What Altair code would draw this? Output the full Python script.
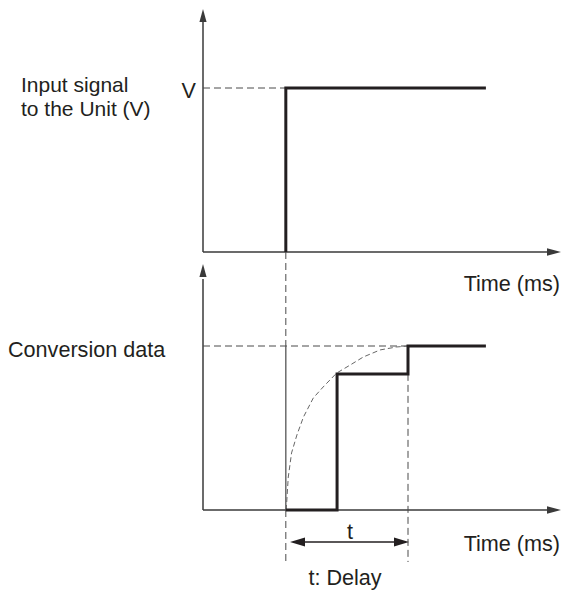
import altair as alt
import pandas as pd

# ---------------- data (time in ms; levels normalised, 1 = V / full scale) ----------------
input_time = [20.2, 20.2, 69]
input_level = [0, 1, 1]
conv_time = [20.2, 32.7, 32.7, 50, 50, 69]
conv_level = [0, 0, 0.83, 0.83, 1, 1]
curve_time = [20.3, 20.6, 20.8, 21.6, 22.9, 24.5, 26.9, 29.3, 32.6, 35.9, 39.1, 43.2, 47.2, 50]
curve_level = [0, 0.122, 0.201, 0.348, 0.457, 0.567, 0.683, 0.75, 0.835, 0.884, 0.933, 0.976, 0.994, 1.0]
step_time = 20.2
mid_level = 0.83
delay_end = 50
axis_end = 86.0
labels_top = ["Input signal", "to the Unit (V)"]
label_v = "V"
label_time = "Time (ms)"
label_conv = "Conversion data"
label_t = "t"
label_delay = "t: Delay"

# ---------------- layout ----------------
W, H = 553, 582
X0, K = 203, 4.1            # page px of t=0, px per ms
TOPB, BOTB, P = 252, 510, 164  # baselines (page px) and px per level unit
FS = 21.6


def tx(px):
    return (px - X0) / K


def tl(py):
    return (TOPB - py) / P


def bl(py):
    return (BOTB - py) / P


XDOM = [tx(8), tx(8 + W)]
TDOM = [tl(8 + H), tl(8)]
BDOM = [bl(8 + H), bl(8)]

FONT = "Liberation Sans"
TXT = "#231f20"
AX = "#3a3a3a"
DASH = "#4a4a4a"

xs = alt.Scale(domain=XDOM, nice=False, zero=False)
ts = alt.Scale(domain=TDOM, nice=False, zero=False)
bs = alt.Scale(domain=BDOM, nice=False, zero=False)


def enc_x(f="t"):
    return alt.X(f"{f}:Q", scale=xs, axis=None)


def enc_y(scale, f="v"):
    return alt.Y(f"{f}:Q", scale=scale, axis=None)


def rules(rows, scale, **mk):
    df = pd.DataFrame(rows, columns=["t", "t2", "v", "v2"])
    return alt.Chart(df).mark_rule(**mk).encode(
        x=enc_x("t"), x2="t2:Q", y=enc_y(scale, "v"), y2="v2:Q"
    )


def arrows(rows, scale, shape, size, color=AX):
    df = pd.DataFrame(rows, columns=["t", "v"])
    return alt.Chart(df).mark_point(
        shape=shape, size=size, filled=True, opacity=1, color=color, strokeWidth=0
    ).encode(x=enc_x("t"), y=enc_y(scale, "v"))


def texts(rows, scale, align, size=FS):
    df = pd.DataFrame(rows, columns=["label", "t", "v"])
    return alt.Chart(df).mark_text(
        align=align, baseline="alphabetic", fontSize=size, font=FONT, color=TXT
    ).encode(x=enc_x("t"), y=enc_y(scale, "v"), text="label:N")


UP = "M0,-1L-0.55,1L0.55,1Z"
RIGHT = "M1,0L-1,-0.55L-1,0.55Z"
LEFT = "M-1,0L1,-0.6L1,0.6Z"
RIGHT2 = "M1,0L-1,-0.6L-1,0.6Z"

# ---------------- top panel ----------------
top_step = pd.DataFrame({"t": input_time, "v": input_level, "i": range(len(input_time))})
top = alt.layer(
    rules([[0, 0, 0, tl(19)], [0, axis_end, 0, 0]], ts, color=AX, strokeWidth=1.5),
    arrows([[0, tl(15.5)]], ts, UP, 169),
    arrows([[tx(554), 0]], ts, RIGHT, 196),
    rules([[0, step_time, 1, 1]], ts, color=DASH, strokeWidth=1, strokeDash=[7, 4]),
    alt.Chart(top_step).mark_line(color="#231f20", strokeWidth=3, strokeJoin="miter").encode(
        x=enc_x("t"), y=enc_y(ts, "v"), order="i:Q"
    ),
    texts([[labels_top[0], tx(21), tl(92)]], ts, "left", 21),
    texts([[labels_top[1], tx(21), tl(116)]], ts, "left", 21),
    texts([[label_v, tx(196), tl(98)]], ts, "right"),
    texts([[label_time, tx(560), tl(291)]], ts, "right"),
)

# ---------------- bottom panel ----------------
bot_step = pd.DataFrame({"t": conv_time, "v": conv_level, "i": range(len(conv_time))})
curve = pd.DataFrame({"t": curve_time, "v": curve_level, "i": range(len(curve_time))})
bottom = alt.layer(
    rules([[0, 0, 0, bl(279)], [0, axis_end, 0, 0]], bs, color=AX, strokeWidth=1.5),
    arrows([[0, bl(270.5)]], bs, UP, 169),
    arrows([[tx(554), 0]], bs, RIGHT, 196),
    # dashed guides
    rules(
        [
            [step_time, step_time, bl(TOPB), 1],
            [step_time, step_time, 0, bl(565)],
            [0, delay_end, 1, 1],
            [delay_end, delay_end, mid_level, bl(562)],
        ],
        bs, color=DASH, strokeWidth=1, strokeDash=[7, 4],
    ),
    rules([[step_time, step_time, 1, 0]], bs, color="#555555", strokeWidth=1.3),
    alt.Chart(curve).mark_line(color="#666666", strokeWidth=1, strokeDash=[5, 3]).encode(
        x=enc_x("t"), y=enc_y(bs, "v"), order="i:Q"
    ),
    alt.Chart(bot_step).mark_line(color="#231f20", strokeWidth=3, strokeJoin="miter").encode(
        x=enc_x("t"), y=enc_y(bs, "v"), order="i:Q"
    ),
    # delay arrow
    rules([[tx(303), tx(397), bl(542), bl(542)]], bs, color="#231f20", strokeWidth=1.5),
    arrows([[tx(297.5), bl(542)]], bs, LEFT, 225, "#231f20"),
    arrows([[tx(401.5), bl(542)]], bs, RIGHT2, 225, "#231f20"),
    texts([[label_conv, tx(8), bl(357)]], bs, "left"),
    texts([[label_time, tx(560), bl(551)]], bs, "right"),
    texts([[label_t, tx(350), bl(539)]], bs, "center"),
    texts([[label_delay, tx(345), bl(585)]], bs, "center"),
)

chart = (
    alt.layer(top, bottom)
    .resolve_scale(y="independent")
    .properties(width=W, height=H, padding=0, autosize=alt.AutoSizeParams(type="none"))
    .configure_view(stroke=None)
)

chart.save("out.html", embed_options={"renderer": "svg", "actions": False})
